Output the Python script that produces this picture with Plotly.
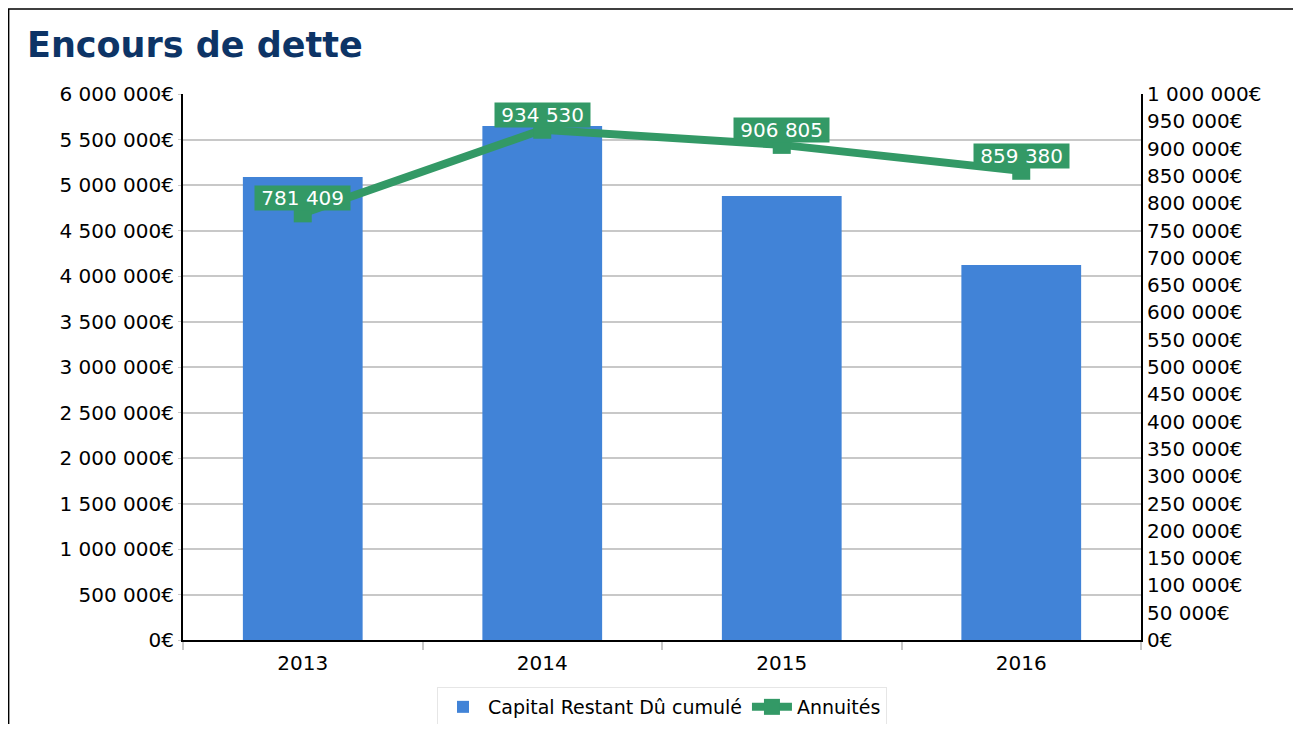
import plotly.graph_objects as go

# Données
annees = ["2013", "2014", "2015", "2016"]
capital_restant = [5088000, 5648000, 4879000, 4121000]
annuites = [781409, 934530, 906805, 859380]

BLEU = "#4183D7"
VERT = "#339966"
FONT = "DejaVu Sans, Verdana, sans-serif"

# la page ajoute 8 px de marge autour du graphique
W, H = 1285, 716


def fmt_fr(v):
    return f"{v:,}".replace(",", " ")


fig = go.Figure()
fig.add_trace(
    go.Bar(
        x=annees,
        y=capital_restant,
        name="Capital Restant Dû cumulé",
        marker=dict(color=BLEU, line=dict(width=0)),
    )
)
fig.add_trace(
    go.Scatter(
        x=annees,
        y=annuites,
        name="Annuités",
        yaxis="y2",
        mode="lines+markers",
        line=dict(color=VERT, width=8),
        marker=dict(symbol="square", size=18, color=VERT),
    )
)

# étiquettes des annuités (x = index de catégorie, sinon "2013" est lu comme un index)
for i, v in enumerate(annuites):
    fig.add_annotation(
        x=i,
        y=v,
        yref="y2",
        text="\u00a0" + fmt_fr(v) + "\u00a0",
        showarrow=False,
        yshift=15,
        bgcolor=VERT,
        borderpad=0,
        font=dict(family=FONT, size=20, color="white"),
    )

# cadre extérieur
fig.add_shape(
    type="rect",
    xref="paper",
    yref="paper",
    x0=-0.182,
    x1=1.25,
    y0=-0.3,
    y1=1.1557,
    line=dict(color="black", width=1.5),
    layer="below",
)

fig.update_layout(
    width=W,
    height=H,
    separators=", ",
    font=dict(family=FONT, size=20, color="black"),
    title=dict(
        text="<b>Encours de dette</b>",
        x=19 / W,
        xanchor="left",
        xref="container",
        y=1 - 37 / H,
        yanchor="middle",
        font=dict(family=FONT, size=35, color="#0D3466"),
    ),
    xaxis=dict(
        type="category",
        range=[-0.5, len(annees) - 0.5],
        showline=True,
        linecolor="black",
        linewidth=2,
        ticks="outside",
        tickson="boundaries",
        ticklen=8,
        tickcolor="#c8c8c8",
        tickwidth=2,
        ticklabelstandoff=4,
        showgrid=False,
        tickfont=dict(size=20),
    ),
    yaxis=dict(
        range=[0, 6000000],
        dtick=500000,
        tickformat=",d",
        ticksuffix="€",
        showline=True,
        linecolor="black",
        linewidth=2,
        ticks="outside",
        ticklen=3,
        tickcolor="#c8c8c8",
        gridcolor="#c8c8c8",
        gridwidth=2,
        zeroline=False,
        tickfont=dict(size=20),
    ),
    yaxis2=dict(
        overlaying="y",
        side="right",
        range=[0, 1000000],
        dtick=50000,
        tickformat=",d",
        ticksuffix="€",
        showline=True,
        linecolor="black",
        linewidth=2,
        showgrid=False,
        zeroline=False,
        tickfont=dict(size=20),
    ),
    legend=dict(
        orientation="h",
        x=0.5,
        xanchor="center",
        yref="container",
        y=1 - 679 / H,
        yanchor="top",
        bordercolor="#e6e6e6",
        borderwidth=1,
        itemwidth=40,
        font=dict(size=19),
    ),
    plot_bgcolor="white",
    paper_bgcolor="white",
    margin=dict(l=175, r=W - 175 - 958, t=86, b=H - 86 - 546),
    bargap=0.5,
)

fig.write_html("out.html")
